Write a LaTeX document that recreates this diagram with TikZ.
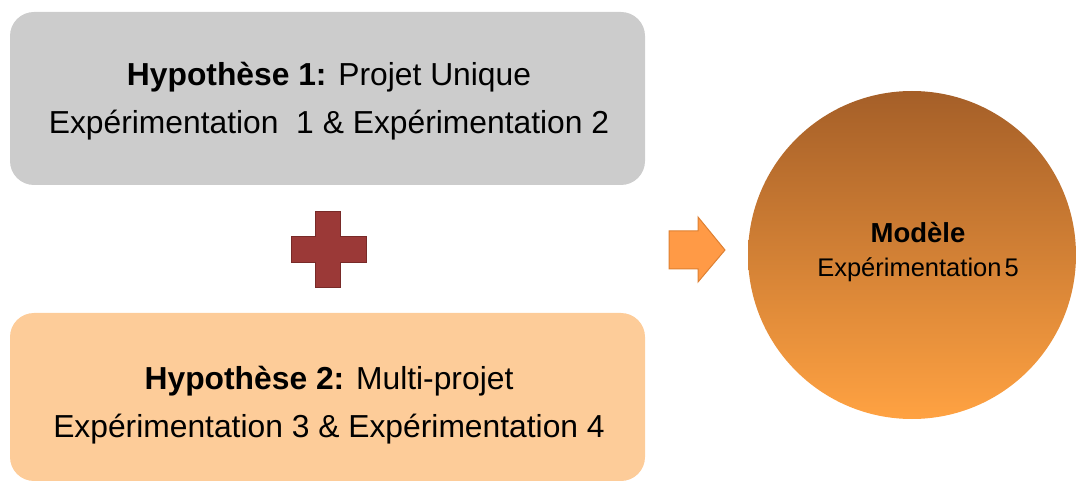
\documentclass[tikz,border=0pt]{standalone}
\usepackage{fontspec}
\setmainfont{Liberation Sans}
\definecolor{boxgray}{RGB}{204,204,204}
\definecolor{boxorange}{RGB}{253,204,153}
\definecolor{plusred}{RGB}{155,57,55}
\definecolor{plusedge}{RGB}{120,42,40}
\definecolor{arrowfill}{RGB}{255,154,70}
\definecolor{arrowedge}{RGB}{222,128,50}
\definecolor{circtop}{RGB}{165,95,40}
\definecolor{circbot}{RGB}{255,162,66}
\begin{document}
\begin{tikzpicture}[x=1pt,y=-1pt,
  hypbox/.style={rounded corners=24pt, minimum width=635pt, inner sep=0pt},
  hyptext/.style={align=center, font=\fontsize{31.8}{48}\selectfont, inner sep=0pt},
  modelnode/.style={circle, minimum size=328pt, inner sep=0pt,
     top color=circtop, bottom color=circbot, shading angle=0},
  plusshape/.style={fill=plusred, draw=plusedge, line width=1pt},
  arrowshape/.style={fill=arrowfill, draw=arrowedge, line width=1pt}]
\useasboundingbox (0,0) rectangle (1077,481);

\node[hypbox, fill=boxgray, minimum height=173pt] (h1) at (327.5,98.5) {};
\node[hyptext] (h1t) at (329,101)
  {\textbf{Hypothèse 1:} Projet Unique\\Expérimentation\ \ 1 \& Expérimentation 2};

\node[hypbox, fill=boxorange, minimum height=168pt] (h2) at (327.5,397) {};
\node[hyptext] (h2t) at (329,405)
  {\textbf{Hypothèse 2:} Multi-projet\\Expérimentation 3 \& Expérimentation 4};

\node[modelnode] (m) at (912,255) {};
\node[font=\fontsize{27.5}{30}\selectfont\bfseries, inner sep=0pt] (mt) at (918,233) {Modèle};
\node[font=\fontsize{25.5}{30}\selectfont, inner sep=0pt] (me) at (918,270) {Expérimentation\hspace{3pt}5};

% plus sign
\draw[plusshape] (315,212) -- (340,212) -- (340,237) -- (366,237) -- (366,263)
  -- (340,263) -- (340,288) -- (315,288) -- (315,263) -- (291,263) -- (291,237)
  -- (315,237) -- cycle;

% arrow
\draw[arrowshape] (669,231) -- (698,231) -- (698,217) -- (725,250) -- (698,282)
  -- (698,269) -- (669,269) -- cycle;
\end{tikzpicture}
\end{document}
